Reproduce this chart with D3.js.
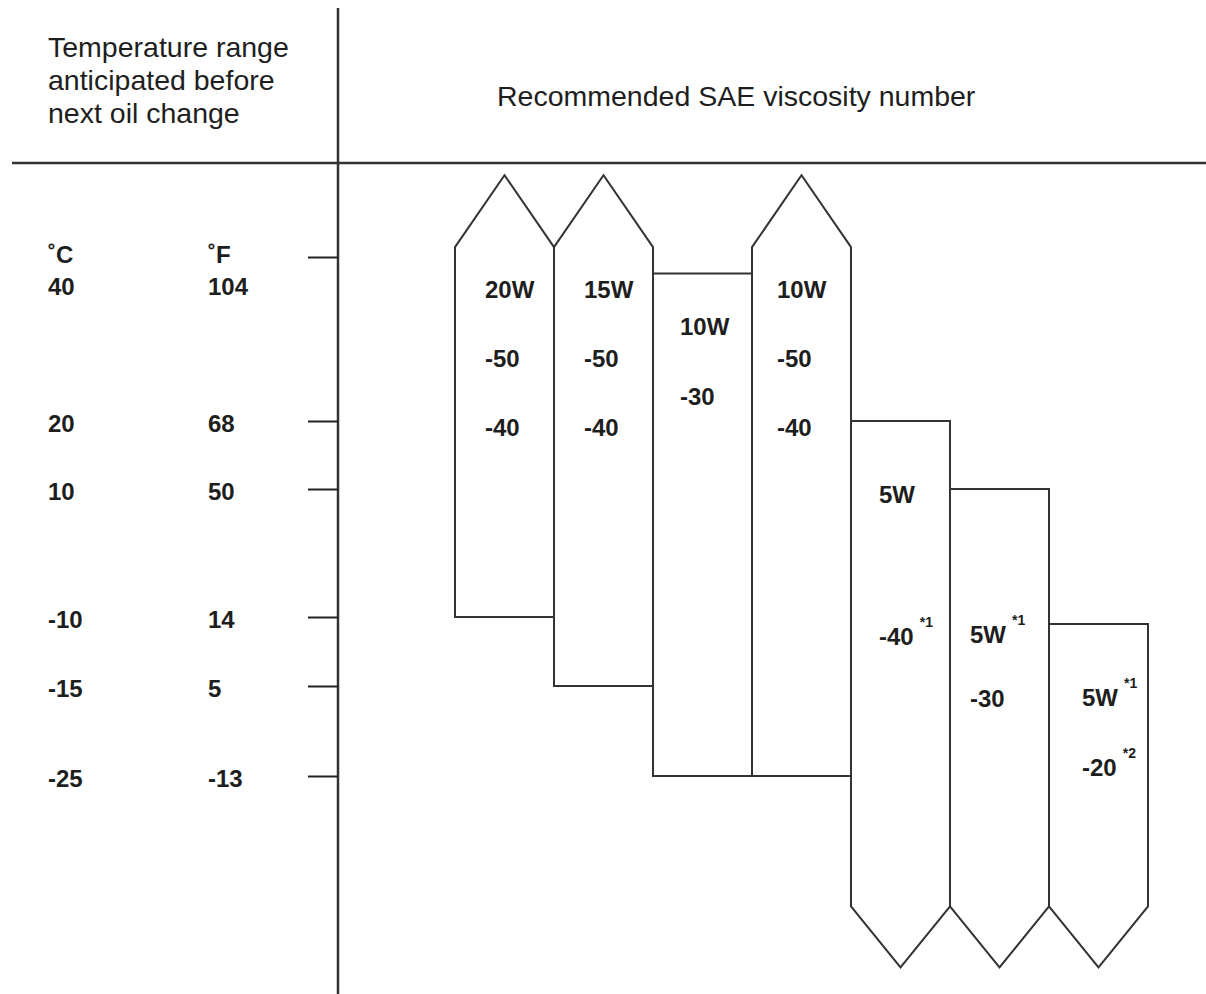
<!DOCTYPE html>
<html lang="en">
<head>
<meta charset="UTF-8">
<title>SAE viscosity chart</title>
<script src="https://d3js.org/d3.v7.min.js"></script>
<style>
  body { margin: 0; background: #fff; }
  text { font-family: "Liberation Sans", Arial, Helvetica, sans-serif; fill: #1e1e1e; }
</style>
</head>
<body>
<script>
// temperature ticks (C / F)
var tempC = [40, 20, 10, -10, -15, -25];
var tempF = ["104", "68", "50", "14", "5", "-13"];

// oil grades, left to right
var grades = ["20W-50/-40", "15W-50/-40", "10W-30", "10W-50/-40", "5W-40", "5W-30", "5W-20"];
// upper / lower limit in C, null = open ended (arrow)
var highC = [null, null, 38, null, 20, 10, -10.5];
var lowC  = [-10, -15, -25, -25, null, null, null];
// text lines inside each bar, with footnote marks
var gradeLines = [
  ["20W", "-50", "-40"],
  ["15W", "-50", "-40"],
  ["10W", "-30"],
  ["10W", "-50", "-40"],
  ["5W", "-40"],
  ["5W", "-30"],
  ["5W", "-20"]
];
var gradeNotes = [
  [null, null, null],
  [null, null, null],
  [null, null],
  [null, null, null],
  [null, "*1"],
  ["*1", null],
  ["*1", "*2"]
];

var width = 1206, height = 994;
var svg = d3.select("body").append("svg")
  .attr("width", width)
  .attr("height", height);

// non-uniform temperature axis, piecewise linear
var y = d3.scaleLinear()
  .domain(tempC)
  .range([257, 421, 489, 617, 686, 776]);

var x = d3.scaleBand()
  .domain(grades)
  .range([455, 1148])
  .padding(0);

var openTop = 41.2, openBottom = -39.5;
var arrowUp = 72, arrowDown = 61;

// frame
svg.append("line")
  .attr("x1", 338).attr("x2", 338).attr("y1", 8).attr("y2", height)
  .attr("stroke", "#333").attr("stroke-width", 2.5);
svg.append("line")
  .attr("x1", 12).attr("x2", width).attr("y1", 163).attr("y2", 163)
  .attr("stroke", "#333").attr("stroke-width", 2.5);

// headers
var hdr = svg.append("text")
  .attr("x", 48).attr("y", 57)
  .style("font-size", "28.5px");
["Temperature range", "anticipated before", "next oil change"].forEach(function (s, i) {
  hdr.append("tspan").attr("x", 48).attr("dy", i == 0 ? 0 : 33).text(s);
});
svg.append("text")
  .attr("x", 497).attr("y", 106)
  .style("font-size", "28.5px")
  .text("Recommended SAE viscosity number");

// axis ticks on the divider
var axis = d3.axisLeft(y).tickValues(tempC).tickSize(30).tickFormat("");
var g = svg.append("g").attr("transform", "translate(338,0)").call(axis);
g.select(".domain").remove();
g.selectAll(".tick line").attr("stroke", "#222").attr("stroke-width", 2);

// unit headings
svg.append("text").attr("x", 48).attr("y", 263)
  .style("font-size", "24px").style("font-weight", "bold").text("˚C");
svg.append("text").attr("x", 208).attr("y", 263)
  .style("font-size", "24px").style("font-weight", "bold").text("˚F");

// tick labels
svg.selectAll(".lblC").data(tempC).enter().append("text")
  .attr("class", "lblC")
  .attr("x", 48)
  .attr("y", function (d, i) { return i == 0 ? 295 : y(d) + 11; })
  .style("font-size", "24px").style("font-weight", "bold")
  .text(function (d) { return d; });
svg.selectAll(".lblF").data(tempF).enter().append("text")
  .attr("class", "lblF")
  .attr("x", 208)
  .attr("y", function (d, i) { return i == 0 ? 295 : y(tempC[i]) + 11; })
  .style("font-size", "24px").style("font-weight", "bold")
  .text(function (d) { return d; });

// bars as polygons with arrow ends
function barPath(i) {
  var x0 = x(grades[i]), x1 = x0 + x.bandwidth(), xm = x0 + x.bandwidth() / 2;
  var top = highC[i] == null ? y(openTop) : y(highC[i]);
  var bot = lowC[i] == null ? y(openBottom) : y(lowC[i]);
  var p = d3.path();
  p.moveTo(x0, top);
  if (highC[i] == null) p.lineTo(xm, top - arrowUp);
  p.lineTo(x1, top);
  p.lineTo(x1, bot);
  if (lowC[i] == null) p.lineTo(xm, bot + arrowDown);
  p.lineTo(x0, bot);
  p.closePath();
  return p.toString();
}

svg.selectAll(".bar").data(grades).enter().append("path")
  .attr("class", "bar")
  .attr("d", function (d, i) { return barPath(i); })
  .attr("fill", "none")
  .attr("stroke", "#333")
  .attr("stroke-width", 2)
  .attr("stroke-linejoin", "miter");

// label placement inside bars: [dx from bar left, first baseline, line gap]
var labelPos = [
  [30, 298, 69], [30, 298, 69], [27, 335, 70], [25, 298, 69],
  [28, 503, 142], [20, 643, 64], [33, 706, 70]
];

grades.forEach(function (gname, i) {
  gradeLines[i].forEach(function (s, j) {
    var t = svg.append("text")
      .attr("x", x(gname) + labelPos[i][0])
      .attr("y", labelPos[i][1] + j * labelPos[i][2])
      .style("font-size", "24px").style("font-weight", "bold");
    t.append("tspan").text(s);
    if (gradeNotes[i][j]) {
      t.append("tspan")
        .attr("dx", 6).attr("dy", -18)
        .style("font-size", "14px")
        .text(gradeNotes[i][j]);
    }
  });
});
</script>
</body>
</html>
